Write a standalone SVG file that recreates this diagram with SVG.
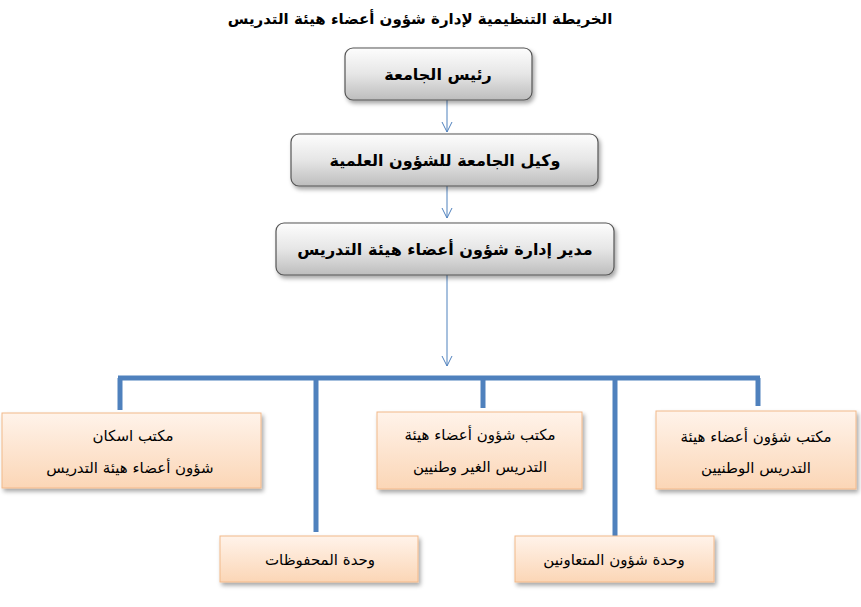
<svg xmlns="http://www.w3.org/2000/svg" width="861" height="607" viewBox="0 0 861 607">
<defs>
<linearGradient id="g" x1="0" y1="0" x2="0" y2="1"><stop offset="0" stop-color="#fdfdfd"/><stop offset="0.5" stop-color="#e6e6e6"/><stop offset="1" stop-color="#bdbdbd"/></linearGradient>
<linearGradient id="p" x1="0" y1="0" x2="0" y2="1"><stop offset="0" stop-color="#fff3ea"/><stop offset="1" stop-color="#fbd6b6"/></linearGradient>
<filter id="s" x="-10%" y="-10%" width="130%" height="140%"><feDropShadow dx="2" dy="3" stdDeviation="2" flood-color="#000" flood-opacity="0.35"/></filter>
<marker id="a" viewBox="0 0 12 12" refX="11" refY="6" markerWidth="12" markerHeight="12" markerUnits="userSpaceOnUse" orient="auto"><path d="M1,1 L11,6 L1,11" fill="none" stroke="#4f81bd" stroke-width="1"/></marker>
</defs>
<style>
text{font-family:"DejaVu Sans","Noto Sans",sans-serif;text-anchor:middle;direction:rtl;fill:#000}
.t{font-size:15px;font-weight:bold}
.h{font-size:16px;font-weight:bold}
.n{font-size:15px}
.gb{fill:url(#g);stroke:#555;stroke-width:1.2;filter:url(#s)}
.pb{fill:url(#p);stroke:#f2b98a;stroke-width:1;filter:url(#s)}
.c{stroke:#4f81bd;fill:none}
</style>
<rect width="861" height="607" fill="#fff"/>
<text class="t" x="420" y="24">الخريطة التنظيمية لإدارة شؤون أعضاء هيئة التدريس</text>
<g id="connectors">
<line class="c" x1="447" y1="100" x2="447" y2="132" stroke-width="1" marker-end="url(#a)"/>
<line class="c" x1="447" y1="186" x2="447" y2="218" stroke-width="1" marker-end="url(#a)"/>
<line class="c" x1="447" y1="275" x2="447" y2="366" stroke-width="1" marker-end="url(#a)"/>
<g stroke-width="5">
<line class="c" x1="118" y1="378" x2="760" y2="378"/>
<line class="c" x1="120" y1="378" x2="120" y2="410"/>
<line class="c" x1="316" y1="378" x2="316" y2="532"/>
<line class="c" x1="483" y1="378" x2="483" y2="408"/>
<line class="c" x1="615" y1="378" x2="615" y2="536"/>
<line class="c" x1="758" y1="378" x2="758" y2="406"/>
</g>
</g>
<g id="n1"><rect class="gb" x="345" y="48" width="187" height="52" rx="8"/><text class="h" x="438" y="80">رئيس الجامعة</text></g>
<g id="n2"><rect class="gb" x="291" y="134" width="307" height="52" rx="8"/><text class="h" x="445" y="166">وكيل الجامعة للشؤون العلمية</text></g>
<g id="n3"><rect class="gb" x="276" y="223" width="338" height="52" rx="8"/><text class="h" x="445" y="255">مدير إدارة شؤون أعضاء هيئة التدريس</text></g>
<g id="n4"><rect class="pb" x="2" y="413" width="259" height="75"/><text class="n" x="133" y="441">مكتب اسكان</text><text class="n" x="130" y="473">شؤون أعضاء هيئة التدريس</text></g>
<g id="n5"><rect class="pb" x="377" y="412" width="205" height="77"/><text class="n" x="480" y="440">مكتب شؤون أعضاء هيئة</text><text class="n" x="480" y="472">التدريس الغير وطنيين</text></g>
<g id="n6"><rect class="pb" x="656" y="411" width="200" height="78"/><text class="n" x="756" y="442">مكتب شؤون أعضاء هيئة</text><text class="n" x="756" y="473">التدريس الوطنيين</text></g>
<g id="n7"><rect class="pb" x="220" y="536" width="198" height="46"/><text class="n" x="320" y="565">وحدة المحفوظات</text></g>
<g id="n8"><rect class="pb" x="515" y="536" width="199" height="46"/><text class="n" x="614" y="565">وحدة شؤون المتعاونين</text></g>
</svg>
